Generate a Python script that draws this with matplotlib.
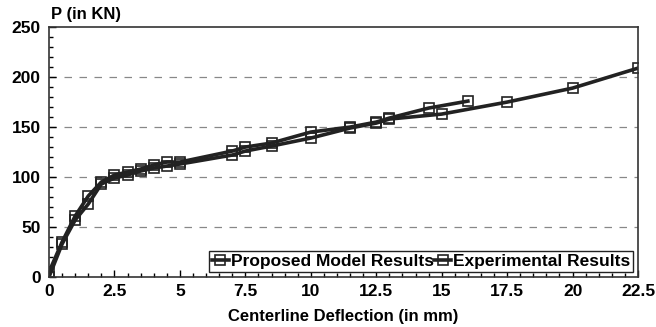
import matplotlib.pyplot as plt
from matplotlib.ticker import MultipleLocator

# Proposed model (smooth curve)
model_x = [0, 0.5, 1, 1.5, 2, 2.5, 3, 3.5, 4, 4.5, 5, 7, 7.5, 8.5, 10, 11.5,
           12.5, 13, 15, 17.5, 20, 22.5]
model_y = [0, 33, 57, 73, 93, 99, 102, 106, 109, 111, 113, 122, 126, 131, 139,
           149, 154, 158, 163, 175, 189, 209]

# Experimental results
exp_x = [0, 0.5, 1, 1.5, 2, 2.5, 3, 3.5, 4, 4.5, 5, 7, 7.5, 8.5, 10, 11.5,
         12.5, 13, 14.5, 16]
exp_y = [5, 35, 61, 81, 95, 102, 105, 108, 112, 115, 115, 126, 130, 134, 145,
         150, 155, 159, 169, 176]

x_ticks = [0, 2.5, 5, 7.5, 10, 12.5, 15, 17.5, 20, 22.5]
x_tick_labels = ['0', '2.5', '5', '7.5', '10', '12.5', '15', '17.5', '20', '22.5']
y_ticks = [0, 50, 100, 150, 200, 250]

plt.rcParams['font.family'] = ['Liberation Sans', 'DejaVu Sans']
plt.rcParams['font.weight'] = 'bold'

fig = plt.figure(figsize=(6.56, 3.27), dpi=100)
ax = fig.add_axes([0.0747, 0.153, 0.8979, 0.764])

ax.plot(model_x, model_y, color='#222222', lw=2.6, marker='s', ms=7.5,
        mfc='none', mec='#222222', mew=1.2, label='Proposed Model Results')
ax.plot(exp_x, exp_y, color='#222222', lw=2.6, marker='s', ms=7.5,
        mfc='none', mec='#222222', mew=1.2, label='Experimental Results')

ax.set_xlim(0, 22.5)
ax.set_ylim(0, 250)
ax.set_xticks(x_ticks)
ax.set_xticklabels(x_tick_labels)
ax.set_yticks(y_ticks)
ax.xaxis.set_minor_locator(MultipleLocator(0.5))
ax.yaxis.set_minor_locator(MultipleLocator(10))
ax.tick_params(which='both', direction='in', labelsize=12.5, width=1)
ax.tick_params(which='major', length=5)
ax.tick_params(which='minor', length=3)
ax.tick_params(axis='x', pad=5)
ax.tick_params(axis='y', pad=6)

# dashed horizontal grid lines
for v in [50, 100, 150, 200]:
    ax.axhline(v, color='#888888', lw=0.9, ls=(0, (6, 6)), zorder=0)

for s in ax.spines.values():
    s.set_color('#333333')
    s.set_linewidth(1.2)

ax.set_xlabel('Centerline Deflection (in mm)', fontsize=12, fontweight='bold',
              labelpad=7)
fig.text(0.078, 0.955, 'P (in KN)', fontsize=12, fontweight='bold',
         ha='left', va='center')

leg = ax.legend(loc='lower right', ncol=2, fontsize=12.5, handlelength=1.0,
                handletextpad=0.1, columnspacing=0.0, borderpad=0.15,
                borderaxespad=0.3, fancybox=False, framealpha=1)
leg.get_frame().set_edgecolor('#222222')
leg.get_frame().set_linewidth(1.0)

fig.savefig('out.png', dpi=100)
